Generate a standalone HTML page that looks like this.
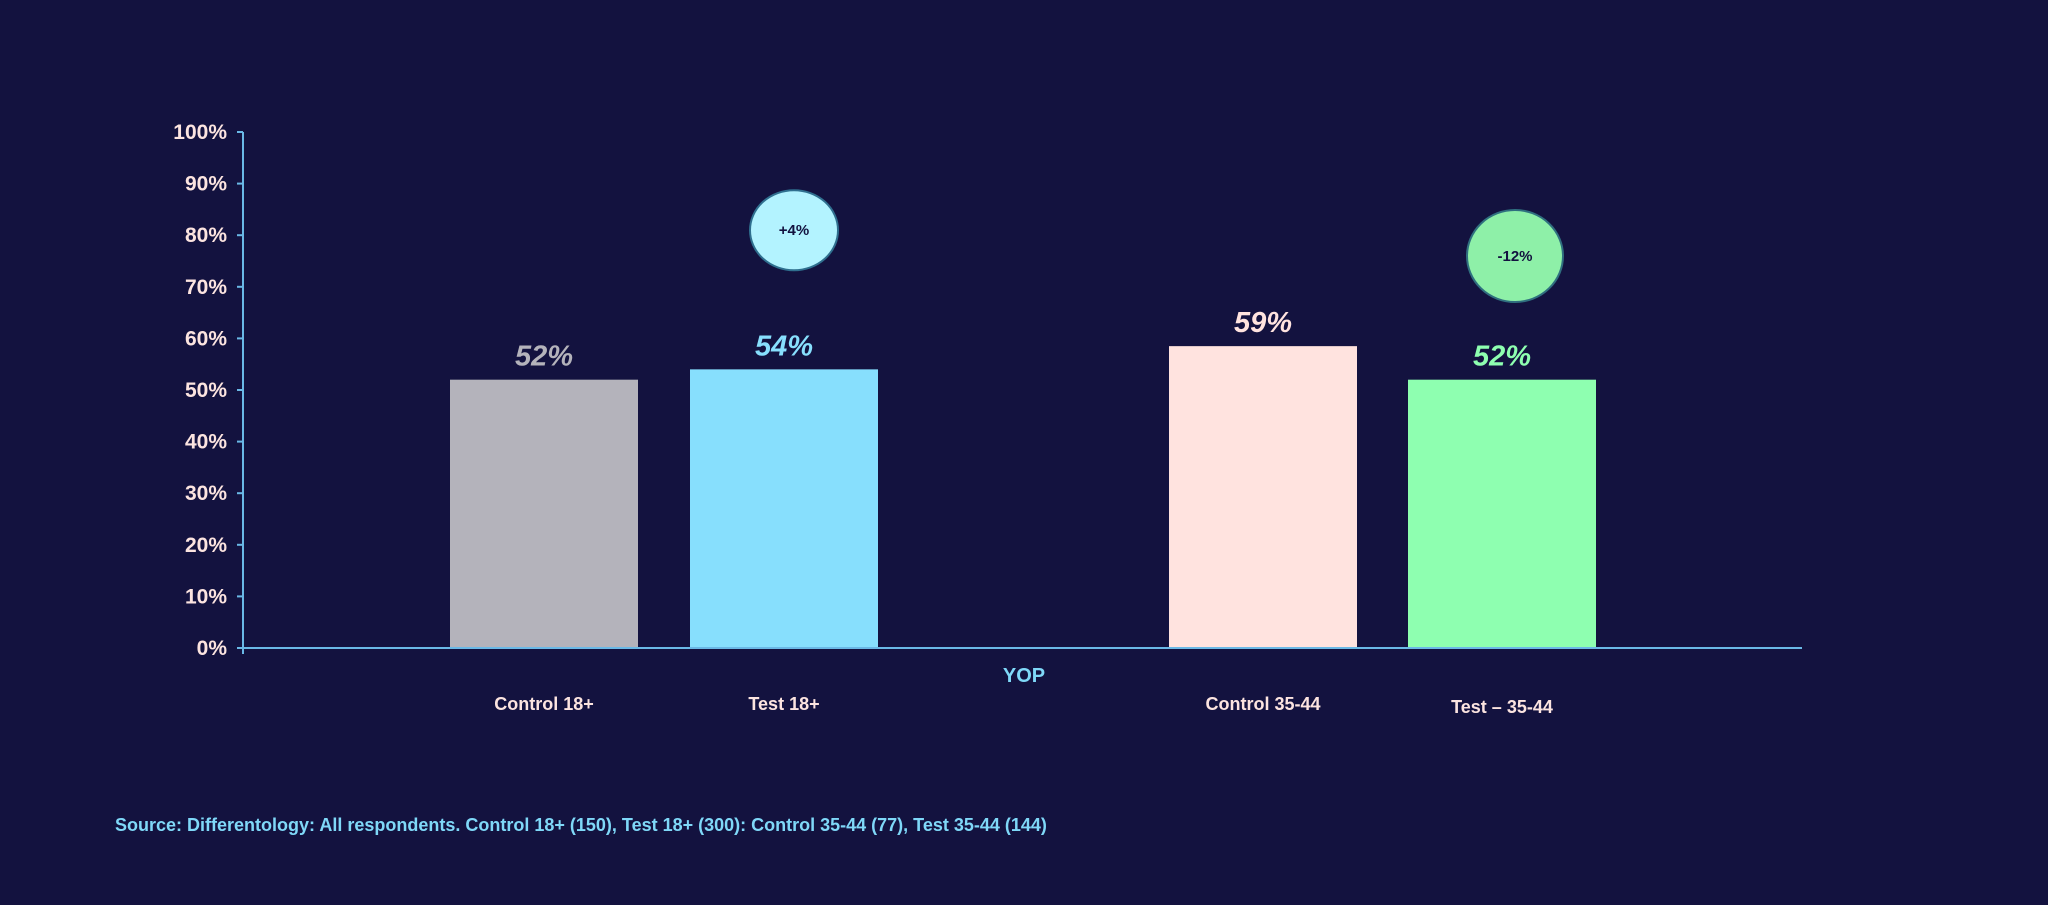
<!DOCTYPE html>
<html><head><meta charset="utf-8"><style>
html,body{margin:0;padding:0;background:#13123f;}
body{width:2048px;height:900px;overflow:hidden;font-family:"Liberation Sans",sans-serif;}
</style></head><body>
<svg id="chart" width="2048" height="900" xmlns="http://www.w3.org/2000/svg">
<rect width="2048" height="900" fill="#13123f"/>
<g id="plot"></g>
<text x="115" y="831" fill="#7fd8f8" font-size="18" font-weight="bold">Source: Differentology: All respondents. Control 18+ (150), Test 18+ (300): Control 35-44 (77), Test 35-44 (144)</text>
</svg>
<script>
const categories = ["Control 18+", "Test 18+", "Control 35-44", "Test \u2013 35-44"];
const values = [52, 54, 58.5, 52];
const valueLabels = ["52%", "54%", "59%", "52%"];
const tickValues = [0,10,20,30,40,50,60,70,80,90,100];
const diffLabels = ["+4%", "-12%"];
const diffPositions = [80, 75]; // bubble centre in % scale
const colors = ["#b4b3bb","#87dffd","#ffe3df","#8effb0"];
const labelColors = ["#b4b3bb","#87dffd","#ffe3df","#8effb0"];

const NS="http://www.w3.org/2000/svg";
const g=document.getElementById('plot');
const x0=243, x1=1802, yTop=132, yBot=648;
const y=v=>yBot-(v/100)*(yBot-yTop);
const barCenters=[544,784,1263,1502];
const barW=188;
function mk(tag,attrs,text){const e=document.createElementNS(NS,tag);for(const k in attrs)e.setAttribute(k,attrs[k]);if(text!==undefined)e.textContent=text;g.appendChild(e);return e;}

tickValues.forEach(t=>{
  const l=mk('line',{x1:x0-6,x2:x0,y1:y(t),y2:y(t),stroke:'#6ab8e6','stroke-width':2});
  
  
  const tx=mk('text',{x:x0-16,y:y(t)+7,'text-anchor':'end',fill:'#fce4e0','font-size':21,'font-weight':'bold'},t+'%');
  
  
});
values.forEach((v,i)=>{
  const r=mk('rect',{x:barCenters[i]-barW/2,y:y(v),width:barW,height:yBot-y(v),fill:colors[i]});
  
  
  const t=mk('text',{x:barCenters[i],y:y(v)-14,'text-anchor':'middle',fill:labelColors[i],'font-size':29,'font-weight':'bold','font-style':'italic'},valueLabels[i]);
  
  
  const c=mk('text',{x:barCenters[i],y:710+(i==3?3:0),'text-anchor':'middle',fill:'#fce4e0','font-size':18,'font-weight':'bold'},categories[i]);
  
  
});
const yax=mk('line',{x1:x0,x2:x0,y1:yTop,y2:yBot+6,stroke:'#6ab8e6','stroke-width':2});


const xax=mk('line',{x1:x0,x2:x1,y1:yBot,y2:yBot,stroke:'#6ab8e6','stroke-width':2});


const xt=mk('text',{x:1024,y:682,'text-anchor':'middle',fill:'#7fd8f8','font-size':20,'font-weight':'bold'},'YOP');


const bub=[{cx:794,rx:44,ry:40,fill:'#b3f3ff',stroke:'#2f6f8f'},{cx:1515,rx:48,ry:46,fill:'#8ef0a8',stroke:'#2f6f7f'}];
diffLabels.forEach((d,i)=>{
  const b=bub[i];
  const e=mk('ellipse',{cx:b.cx,cy:y(diffPositions[i])-5,rx:b.rx,ry:b.ry,fill:b.fill,stroke:b.stroke,'stroke-width':2});
  
  
  const t=mk('text',{x:b.cx,y:y(diffPositions[i]),'text-anchor':'middle',fill:'#13123f','font-size':15,'font-weight':'bold'},d);
  
  
});
</script>
</body></html>
